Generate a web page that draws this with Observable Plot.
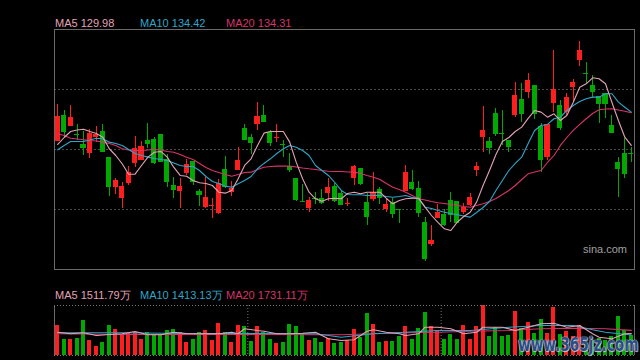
<!DOCTYPE html>
<html>
<head>
<meta charset="utf-8">
<script src="https://cdn.jsdelivr.net/npm/d3@7"></script>
<script src="https://cdn.jsdelivr.net/npm/@observablehq/plot@0.6"></script>
<style>
  html, body { margin: 0; padding: 0; background: #000; }
  #wrap { position: relative; width: 640px; height: 360px; background: #000; overflow: hidden;
          font-family: "Liberation Sans", Arial, sans-serif; }
  .lab { position: absolute; font-size: 11px; line-height: 12px; white-space: nowrap; }
  #main { position: absolute; left: 0; top: 29px; }
  #vol { position: absolute; left: 0; top: 300px; }
  #sina { position: absolute; left: 583px; top: 243px; font-size: 11px; color: #a0a0a0; }
  #wm { position: absolute; left: 518px; top: 334px; font-size: 19px; line-height: 20px; font-weight: bold; color: #2a4c86;
        font-family: "DejaVu Sans", sans-serif; white-space: nowrap;
        transform: scaleX(0.72); transform-origin: 0 0;
        text-shadow: 0 0 2px #ddd, 0 0 1px #ddd, 1px 1px 1px #bbb; }
</style>
</head>
<body>
<div id="wrap">
  <div class="lab" style="left:55px;top:17px;color:#e3a3b6">MA5 129.98</div>
  <div class="lab" style="left:140px;top:17px;color:#2ea6c8">MA10 134.42</div>
  <div class="lab" style="left:226px;top:17px;color:#d8336a">MA20 134.31</div>
  <div id="main"></div>
  <div id="sina">sina.com</div>
  <div class="lab" style="left:55px;top:289px;color:#e3a3b6">MA5 1511.79万</div>
  <div class="lab" style="left:140px;top:289px;color:#2ea6c8">MA10 1413.13万</div>
  <div class="lab" style="left:226px;top:289px;color:#d8336a">MA20 1731.11万</div>
  <div id="vol"></div>
  <div id="wm">www.365jz.com</div>
</div>
<script>
// ---- data (prices in yuan, volumes in 万) ----
const opens = [
130.55,133.98,132.55,131.42,130.11,128.95,131.04,131.88,128.42,124.42,
122.95,124.95,127.62,127.94,130.64,130.78,131.44,128.11,124.64,123.88,
126.28,127.84,123.84,121.75,121.96,120.95,126.78,123.75,126.64,132.28,
131.08,132.74,133.98,131.75,131.02,130.17,127.18,125.54,122.57,121.62,
122.97,122.95,123.62,124.55,123.58,122.18,125.62,126.95,122.38,122.74,
124.07,121.44,122.34,121.42,123.88,125.00,124.20,119.71,116.82,120.28,
120.82,122.60,122.51,121.00,121.98,126.68,131.08,130.51,134.28,131.56,
130.64,133.98,136.11,137.08,137.98,132.51,128.34,135.54,135.31,134.42,
137.75,141.31,139.64,137.98,136.55,136.87,132.64,127.75,128.87,128.89];
const closes = [
133.88,131.88,133.71,131.38,129.75,131.54,131.44,129.22,124.55,125.31,
124.51,126.34,129.54,129.84,130.28,127.75,127.84,125.18,124.07,124.51,
127.40,125.18,123.44,123.04,122.00,124.87,124.55,124.28,127.98,130.78,
130.42,133.88,133.22,130.42,131.06,130.13,126.74,122.78,122.53,122.60,
122.93,122.42,124.34,122.64,122.15,122.22,127.18,124.95,120.55,123.67,
123.08,122.11,120.87,121.38,126.34,124.28,121.08,114.91,117.31,121.04,
119.40,120.74,119.71,121.75,123.04,127.18,131.98,129.75,131.62,131.52,
129.88,136.64,134.28,138.64,134.20,128.11,132.78,137.44,132.42,136.42,
138.42,142.64,139.60,137.22,135.62,135.62,131.75,126.95,126.28,128.85];
const highs = [
135.44,134.64,135.31,132.82,131.84,132.07,132.51,132.74,128.42,125.62,
125.08,127.18,131.14,130.47,132.91,131.08,131.44,128.78,125.75,125.54,
128.07,127.84,124.11,125.75,122.87,125.44,128.51,125.18,129.75,132.74,
131.44,135.67,135.31,131.98,132.78,130.64,128.95,125.54,124.78,123.08,
123.75,124.07,125.54,124.87,123.98,122.87,127.31,126.95,123.58,126.34,
124.38,122.87,122.95,121.44,127.31,126.64,125.18,120.38,119.27,122.07,
121.48,123.67,122.51,122.24,123.62,127.75,135.18,131.08,134.87,134.64,
130.64,138.42,138.20,139.62,137.98,132.87,132.78,142.64,135.98,136.95,
138.74,143.84,141.00,139.31,136.55,136.87,133.98,128.42,130.87,129.75];
const lows = [
130.55,131.04,132.55,130.64,128.64,128.20,130.42,129.00,123.22,123.44,
121.54,124.64,127.08,127.94,129.54,127.44,127.84,124.34,122.87,121.62,
125.98,124.64,121.84,121.54,120.28,120.78,124.20,123.22,126.64,130.78,
128.74,131.98,133.22,129.88,130.42,128.42,126.42,122.51,122.34,121.08,
122.11,122.11,122.51,122.42,121.98,121.88,124.64,124.64,119.31,122.51,
122.07,121.08,120.28,119.62,123.88,123.98,120.42,114.51,116.55,120.20,
119.22,119.67,119.54,120.74,121.88,125.88,129.00,128.74,131.18,129.98,
129.00,133.67,133.00,136.20,133.40,126.42,127.98,134.42,131.98,133.98,
135.75,140.55,138.20,136.42,132.95,133.62,131.54,123.08,125.54,127.75];
const volumes = [
2070,1104,1104,1173,2415,1035,621,897,2070,1794,
1380,1518,1587,1104,1587,1380,1380,1725,1794,1587,
897,1104,1587,1725,1035,2208,1587,897,2070,2001,
966,2001,1587,1104,828,897,2139,2001,1518,1035,
1173,897,1173,828,897,1035,1794,1242,2919,2139,
897,966,966,1311,2001,1104,1863,2967,2001,1725,
1104,1449,1104,2070,1104,2001,3429,1311,1932,1311,
1380,3036,1863,2277,1518,2484,1518,3312,1449,1656,
1311,2070,828,1035,1173,1035,1311,2691,1725,1380];
const ma5 = [
130.11,131.04,131.84,132.04,132.15,131.84,131.58,131.08,129.54,128.64,
127.54,126.15,126.15,127.31,128.42,129.08,129.18,128.42,127.08,125.98,
125.88,125.31,125.00,124.91,124.64,123.75,123.62,123.98,125.54,127.31,
128.20,129.98,131.62,131.84,131.84,131.84,130.42,127.75,125.54,123.75,
122.87,122.55,122.87,122.95,122.87,123.58,123.75,123.54,123.75,123.75,
123.75,122.91,122.20,122.64,122.87,122.95,122.95,121.75,120.64,119.71,
118.87,118.64,119.75,120.51,121.08,122.42,124.64,126.64,128.78,130.51,
131.04,131.84,132.42,133.58,134.64,134.42,133.75,134.20,133.31,133.98,
135.75,137.75,138.20,139.00,138.87,138.20,135.71,133.31,131.08,129.98];
const ma10 = [
129.40,129.98,130.51,130.51,130.51,130.71,130.95,130.87,130.42,130.24,
129.98,129.44,128.91,128.64,128.42,128.24,128.11,127.98,127.64,127.31,
127.18,127.18,126.64,125.84,125.18,124.91,124.55,124.42,124.87,125.31,
125.84,126.87,127.58,128.20,128.91,129.54,129.98,129.75,129.31,128.64,
127.31,126.64,125.98,125.04,123.98,123.44,123.40,123.40,123.31,123.31,
123.31,123.18,123.08,123.18,123.31,123.04,122.87,121.75,121.58,121.31,
121.08,120.91,120.74,120.58,120.42,121.04,121.71,122.51,123.98,125.31,
126.64,127.58,128.42,130.24,131.98,132.64,132.78,133.54,133.75,134.64,
135.31,135.84,136.20,136.42,136.42,136.87,136.87,135.75,135.08,134.42];
const ma20 = [
131.54,131.31,130.95,130.84,130.74,130.64,130.58,130.42,130.24,129.98,
129.54,129.38,129.31,129.31,129.38,129.44,129.38,129.18,129.08,128.78,
128.42,128.11,127.58,127.04,126.64,126.38,126.11,125.88,126.11,126.38,
126.42,126.78,127.08,127.18,127.22,127.22,127.22,127.11,126.98,126.87,
126.78,126.64,126.55,126.51,126.51,126.44,126.42,126.24,125.98,125.75,
125.44,124.91,124.42,124.11,123.75,123.31,122.87,122.71,122.51,122.34,
122.24,122.11,121.98,121.84,121.75,121.98,122.20,122.51,122.91,123.44,
123.98,124.64,125.44,126.20,126.44,126.64,127.71,128.64,129.98,131.04,
131.98,132.78,133.54,134.24,134.74,134.84,134.87,134.71,134.55,134.34];
// volume moving averages read at these candle positions: [index, 万]
const volMa5 = [[0,1608],[2,1497],[4,1566],[6,1380],[8,1449],[10,1497],[12,1656],[14,1428],[16,1428],[18,1608],
  [20,1518],[22,1497],[25,1497],[27,1608],[28,1497],[29,1842],[31,1725],[32,1677],[34,1497],[36,1497],
  [38,1539],[40,1608],[42,1152],[44,1035],[46,1083],[48,1677],[49,1773],[51,1608],[53,1497],[54,1380],
  [56,1497],[57,1953],[59,1953],[61,1842],[63,1497],[65,1608],[66,1953],[69,1953],[71,1725],[73,1953],
  [75,2187],[77,2229],[79,1953],[81,2070],[83,1497],[84,1263],[86,1152],[88,1497],[89,1511]];
const volMa10 = [[0,1566],[10,1566],[20,1518],[30,1518],[40,1497],[44,1263],[49,1497],[54,1608],[59,1725],
  [64,1725],[70,1953],[75,2070],[80,2070],[83,1773],[85,1608],[89,1413]];
const volMa20 = [[0,1497],[10,1449],[20,1449],[30,1449],[40,1428],[44,1428],[49,1497],[54,1566],[59,1608],
  [64,1677],[70,1725],[75,1842],[80,1884],[85,1842],[89,1731]];
const priceGrid = [121.44, 129.44, 137.44];
const monthBreaks = [29.5, 59.5];

// ---- build ----
const RED = "#ff1e1e", GREEN = "#00a800";
const C5 = "#e3a3b6", C10 = "#2ea6c8", C20 = "#d8336a";
const N = closes.length;
const candles = d3.range(N).map(i => ({i, open: opens[i], close: closes[i], high: highs[i], low: lows[i], vol: volumes[i]}));
const col = d => d.close >= d.open ? RED : GREEN;
const maRows = arr => arr.map((v, i) => ({i, v}));
const pairRows = arr => arr.map(([i, v]) => ({i, v}));
const xs = {type: "linear", domain: [-0.5, N - 0.5], axis: null};

const main = Plot.plot({
  width: 640, height: 241,
  marginLeft: 54, marginRight: 6, marginTop: 0, marginBottom: 1,
  style: {background: "#000"},
  x: xs,
  y: {domain: [113.44, 145.44], axis: null},
  color: {type: "identity"},
  marks: [
    Plot.ruleY(priceGrid, {stroke: "#4a4a4a", strokeDasharray: "2,2"}),
    Plot.ruleX(candles, {x: "i", y1: "low", y2: "high", stroke: col, shapeRendering: "crispEdges"}),
    Plot.rect(candles, {x1: d => d.i - 0.39, x2: d => d.i + 0.39, y1: "open", y2: "close", fill: col, shapeRendering: "crispEdges"}),
    Plot.ruleY(candles, {x1: d => d.i - 0.39, x2: d => d.i + 0.39, y: "close", stroke: col, shapeRendering: "crispEdges"}),
    Plot.line(maRows(ma20), {x: "i", y: "v", stroke: C20, strokeWidth: 1.1}),
    Plot.line(maRows(ma10), {x: "i", y: "v", stroke: C10, strokeWidth: 1.1}),
    Plot.line(maRows(ma5), {x: "i", y: "v", stroke: C5, strokeWidth: 1.1}),
    Plot.frame({stroke: "#6a6a6a"})
  ]
});
document.getElementById("main").appendChild(main);

const vol = Plot.plot({
  width: 640, height: 60,
  marginLeft: 54, marginRight: 6, marginTop: 5, marginBottom: 5,
  style: {background: "transparent"},
  x: xs,
  y: {domain: [0, 3450], axis: null},
  color: {type: "identity"},
  marks: [
    Plot.rect(candles, {x1: d => d.i - 0.31, x2: d => d.i + 0.31, y1: 0, y2: "vol", fill: col, shapeRendering: "crispEdges"}),
    Plot.ruleX(monthBreaks, {stroke: "#777", strokeDasharray: "1,2"}),
    Plot.line(pairRows(volMa20), {x: "i", y: "v", stroke: C20, strokeWidth: 1.1}),
    Plot.line(pairRows(volMa10), {x: "i", y: "v", stroke: C10, strokeWidth: 1.1}),
    Plot.line(pairRows(volMa5), {x: "i", y: "v", stroke: C5, strokeWidth: 1.1}),
    Plot.ruleY([0, 3450], {stroke: "#777", strokeDasharray: "1,2"}),
    Plot.ruleX([-0.5, N - 0.5], {stroke: "#6a6a6a"})
  ]
});
document.getElementById("vol").appendChild(vol);
</script>
</body>
</html>
